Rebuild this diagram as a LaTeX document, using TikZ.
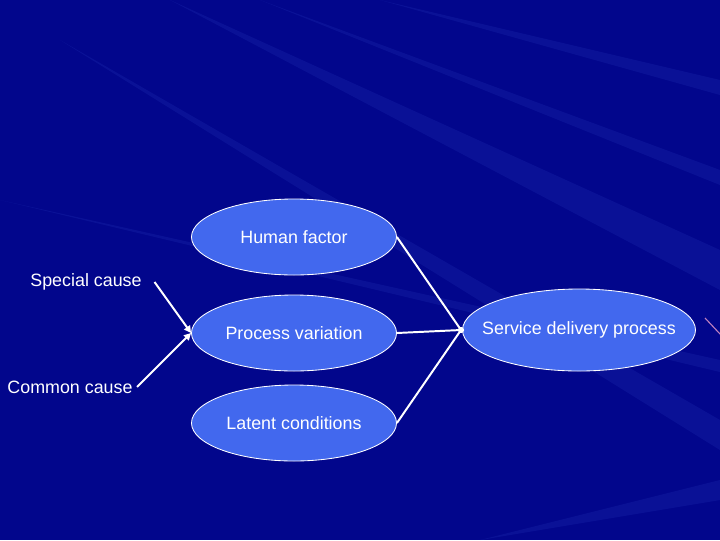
\documentclass[tikz,border=0pt]{standalone}
\usepackage{fontspec}
\setmainfont{Liberation Sans}
\usetikzlibrary{shapes.geometric,arrows.meta}
\definecolor{bgblue}{RGB}{2,6,140}
\definecolor{ellblue}{RGB}{66,104,238}
\definecolor{rayblue}{RGB}{40,60,190}
\tikzset{
  oval/.style={ellipse, draw=white, line width=0.6pt, fill=ellblue, minimum width=205*0.025cm, minimum height=76*0.025cm, inner sep=0pt, text=white, font=\fontsize{12.7}{15}\selectfont},
  lbl/.style={text=white, font=\fontsize{12.7}{15}\selectfont, inner sep=1pt},
  conn/.style={draw=white, line width=1.4pt},
  arr/.style={conn, -{Triangle[length=5pt,width=5pt]}},
  ray/.style={fill=rayblue, opacity=0.22}
}
\begin{document}
\begin{tikzpicture}[x=0.025cm,y=-0.025cm]
\fill[bgblue] (0,0) rectangle (720,540);
\useasboundingbox (0,0) rectangle (720,540);
% background rays
\fill[ray] (170,0) -- (720,250) -- (720,290) -- cycle;
\fill[ray] (260,0) -- (720,170) -- (720,185) -- cycle;
\fill[ray] (60,40) -- (720,420) -- (720,450) -- cycle;
\fill[ray] (0,200) -- (720,360) -- (720,372) -- cycle;
\fill[ray] (380,0) -- (720,80) -- (720,95) -- cycle;
\fill[ray] (480,540) -- (720,480) -- (720,500) -- cycle;
\draw[violet!50!white, line width=0.8pt] (705,318) -- (720,334);
% nodes
\node[oval] (hf) at (294,237) {Human factor};
\node[oval] (pv) at (294,333) {Process variation};
\node[oval] (lc) at (294,423) {Latent conditions};
\node[oval, minimum width=233*0.025cm, minimum height=82*0.025cm,
  label={[lbl]center:Service delivery process}] (sd) at (579,330) {};
\node[lbl] (sc) at (86,282) {Special cause};
\node[lbl] (cc) at (70,387) {Common cause};
\coordinate (sdin) at (461,330);
% connectors
\draw[arr] ([xshift=8pt]sc.east) -- (pv.west);
\draw[arr] ([xshift=2pt]cc.east) -- (pv.west);
\draw[conn] (hf.east) -- (sdin);
\draw[conn] (pv.east) -- (sdin);
\draw[conn] (lc.east) -- (sdin);
\fill[white] (sdin) circle (2.2pt);
\end{tikzpicture}
\end{document}
